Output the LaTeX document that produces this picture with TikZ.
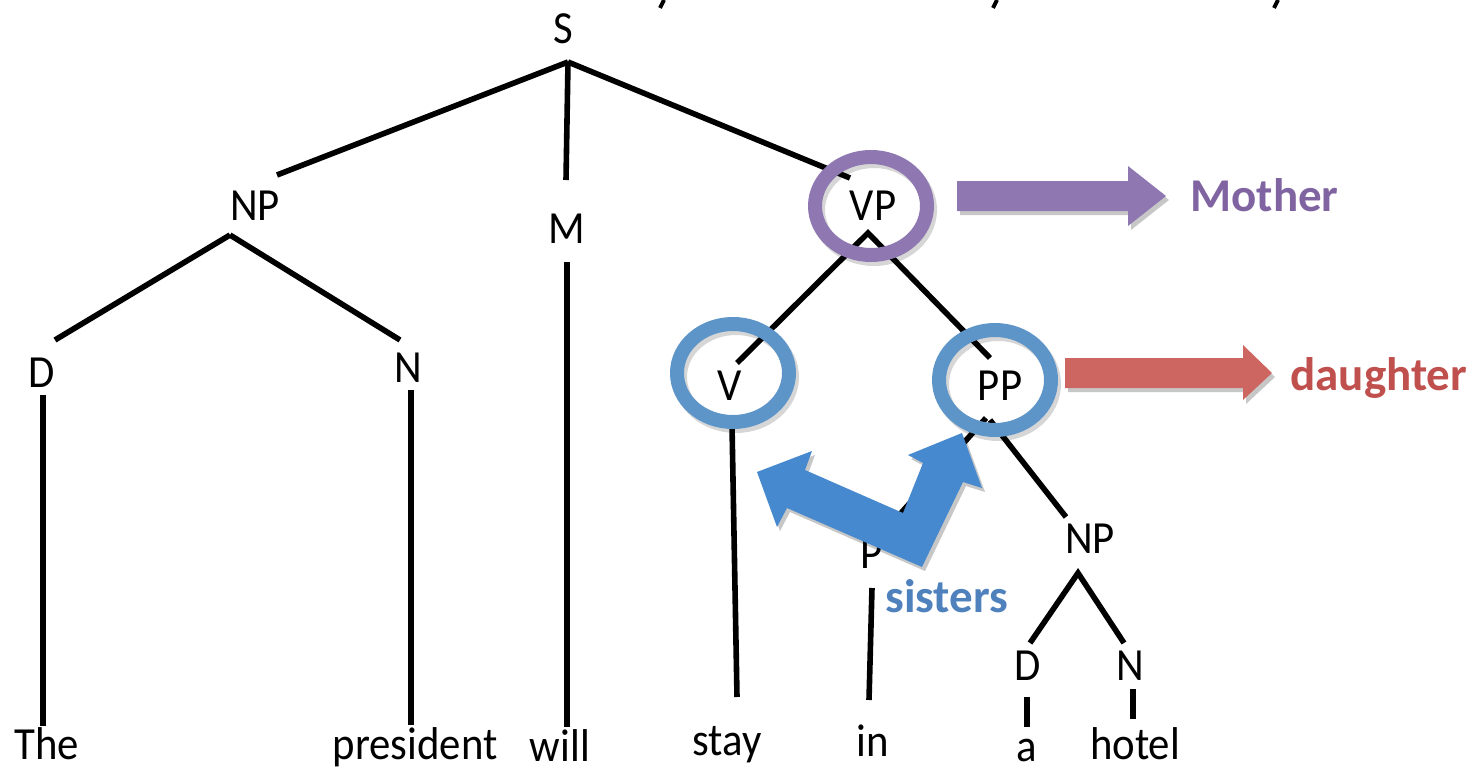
\documentclass[tikz,border=0pt]{standalone}
\usepackage{fontspec}
\setmainfont{Carlito}
\newfontfamily\treefont{Carlito}[FakeStretch=0.93]
\definecolor{purplering}{HTML}{8F78B1}
\definecolor{purpletext}{HTML}{8064A2}
\definecolor{bluering}{HTML}{5D95C9}
\definecolor{bluetext}{HTML}{4F81BD}
\definecolor{bluearrow}{HTML}{4689CE}
\definecolor{redarrow}{HTML}{CD6660}
\definecolor{redtext}{HTML}{C0504D}
\begin{document}
\begin{tikzpicture}[x=0.5pt,y=-0.5pt,
  lbl/.style={anchor=base,inner sep=0pt,font=\treefont\fontsize{23pt}{25pt}\selectfont},
  tag/.style={anchor=base west,inner sep=0pt,font=\fontsize{23.5pt}{26pt}\selectfont\bfseries},
  edge/.style={line width=2.8pt,black},
  ring/.style={line width=7pt},
  ringshadow/.style={line width=7pt,black,opacity=0.16},
  shade/.style={black,opacity=0.22}]
\useasboundingbox (0,0) rectangle (1474,771);

% descenders of a line of text cut off above the tree
\draw[line width=2pt] (664,0) -- (660,8);
\draw[line width=2pt] (997,0) -- (993,8);
\draw[line width=2pt] (1278,0) -- (1274,8);

% ---- end points of the branches ----
\coordinate (S-b)   at (568,62);
\coordinate (NP1-t) at (277,175);
\coordinate (M-t)   at (566,180);
\coordinate (VP-t)  at (850,178);
\coordinate (NP1-b) at (230,235);
\coordinate (D1-t)  at (55,340);
\coordinate (N1-t)  at (400,340);
\coordinate (M-b)   at (567,262);
\coordinate (will-t) at (567,727);
\coordinate (D1-b)  at (43,395);
\coordinate (the-t) at (43,726);
\coordinate (N1-b)  at (411,390);
\coordinate (pres-t) at (411,725);
\coordinate (VP-b)  at (868,233);
\coordinate (V-t)   at (737,363);
\coordinate (PP-t)  at (990,358);
\coordinate (V-b)   at (732,425);
\coordinate (stay-t) at (737,697);
\coordinate (PP-b)  at (986,418);
\coordinate (P-t)   at (893,522);
\coordinate (PP-br) at (990,420);
\coordinate (NP2-t) at (1066,517);
\coordinate (P-b)   at (872,588);
\coordinate (in-t)  at (869,700);
\coordinate (NP2-b) at (1078,573);
\coordinate (D2-t)  at (1030,643);
\coordinate (N2-t)  at (1124,643);
\coordinate (D2-b)  at (1027,697);
\coordinate (a-t)   at (1027,727);
\coordinate (N2-b)  at (1133,689);
\coordinate (hotel-t) at (1133,719);

% ---- branches ----
\draw[edge] (S-b) -- (NP1-t);
\draw[edge] (S-b) -- (M-t);
\draw[edge] (S-b) -- (VP-t);
\draw[edge] (NP1-b) -- (D1-t);
\draw[edge] (NP1-b) -- (N1-t);
\draw[edge] (M-b) -- (will-t);
\draw[edge] (D1-b) -- (the-t);
\draw[edge] (N1-b) -- (pres-t);
\draw[edge] (V-t) -- (VP-b) -- (PP-t);
\draw[edge] (V-b) -- (stay-t);
\draw[edge] (PP-b) -- (P-t);
\draw[edge] (PP-br) -- (NP2-t);
\draw[edge] (P-b) -- (in-t);
\draw[edge] (D2-t) -- (NP2-b) -- (N2-t);
\draw[edge] (D2-b) -- (a-t);
\draw[edge] (N2-b) -- (hotel-t);

% ---- rings ----
\draw[ringshadow] (874,210) ellipse [x radius=56, y radius=49];
\draw[ring,purplering] (871,206) ellipse [x radius=56, y radius=49];
\draw[ringshadow] (736,377) ellipse [x radius=56, y radius=49];
\draw[ring,bluering] (733,373) ellipse [x radius=56, y radius=49];
\draw[ringshadow] (998,384) ellipse [x radius=56, y radius=50];
\draw[ring,bluering] (995,380) ellipse [x radius=56, y radius=50];

% ---- labels ----
\node[lbl] (S)   at (563,43)  {S};
\node[lbl] (NP1) at (255,220) {NP};
\node[lbl] (M)   at (567,243) {M};
\node[lbl] (VP)  at (873,220) {VP};
\node[lbl] (D1)  at (42,387)  {D};
\node[lbl] (N1)  at (408,382) {N};
\node[lbl] (V)   at (730,400) {V};
\node[lbl] (PP)  at (1000,400) {PP};
\node[lbl] (P)   at (872,568) {P};
\node[lbl] (NP2) at (1090,553) {NP};
\node[lbl] (D2)  at (1028,680) {D};
\node[lbl] (N2)  at (1130,680) {N};

\node[lbl] (w-the)   at (47,759)   {The};
\node[lbl] (w-pres)  at (415,759)  {president};
\node[lbl] (w-will)  at (560,761)  {will};
\node[lbl] (w-stay)  at (727,755)  {stay};
\node[lbl] (w-in)    at (873,756)  {in};
\node[lbl] (w-a)     at (1027,761) {a};
\node[lbl] (w-hotel) at (1135,759) {hotel};

% ---- block arrows ----
\fill[shade] (960,185) -- (1131,185) -- (1131,170) -- (1169,200) -- (1131,230) -- (1131,215) -- (960,215) -- cycle;
\fill[purplering] (957,181) -- (1128,181) -- (1128,166) -- (1166,196) -- (1128,226) -- (1128,211) -- (957,211) -- cycle;
\node[tag,text=purpletext] (mother) at (1190,211) {Mother};

\fill[shade] (1068,362) -- (1246,362) -- (1246,349) -- (1275,377) -- (1246,404) -- (1246,392) -- (1068,392) -- cycle;
\fill[redarrow] (1065,358) -- (1243,358) -- (1243,345) -- (1272,373) -- (1243,400) -- (1243,388) -- (1065,388) -- cycle;
\node[tag,text=redtext] (daughter) at (1290,390) {daughter};

% bent double-headed arrow between the two sisters
\fill[shade] (760,476) -- (815,455) -- (808,474) -- (906,517) -- (926,467) -- (911,459) -- (965,437) -- (985,492) -- (966,486) -- (925,571) -- (790,512) -- (780,531) -- cycle;
\fill[bluearrow] (757,472) -- (812,451) -- (805,470) -- (903,513) -- (923,463) -- (908,455) -- (962,433) -- (982,488) -- (963,482) -- (922,567) -- (787,508) -- (777,527) -- cycle;
\node[tag,text=bluetext] (sisters) at (885,612) {sisters};
\end{tikzpicture}
\end{document}
